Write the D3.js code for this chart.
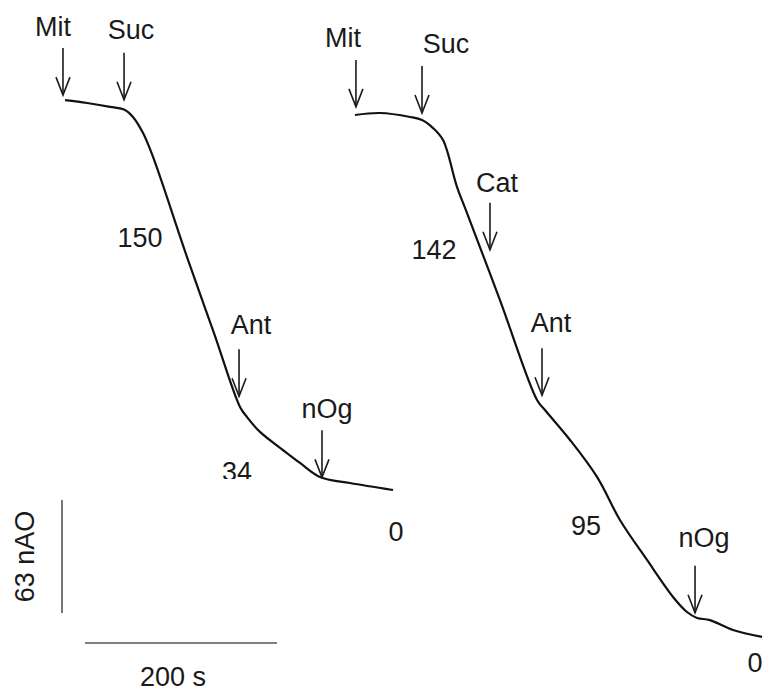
<!DOCTYPE html>
<html>
<head>
<meta charset="utf-8">
<script src="https://cdn.jsdelivr.net/npm/d3@7/dist/d3.min.js"></script>
<style>
  html, body { margin: 0; padding: 0; background: #fff; }
  svg { display: block; }
  text { font-family: "Liberation Sans", Arial, sans-serif; fill: #1a1a1a; }
</style>
</head>
<body>
<script>
// ---------- DATA ----------
// Trace 1 (left): time (s) and oxygen (nAO, arbitrary zero)
const leftTime = [0, 22.9, 46.9, 62.5, 70.8, 81.3, 91.7, 127.1, 155.2, 182.3, 189.6, 203.1, 227.1, 244.8, 265.6, 296.9, 341.7];
const leftO2   = [330.0, 328.4, 326.2, 324.5, 320.6, 311.6, 298.3, 242.5, 200.1, 158.9, 153.3, 145.0, 134.9, 127.7, 119.9, 116.5, 112.6];
// Trace 2 (right)
const rightTime = [0, 26.0, 57.3, 69.8, 81.3, 91.7, 106.3, 116.7, 151.0, 189.6, 197.9, 224.0, 252.1, 276.0, 304.2, 331.3, 345.8, 356.3, 369.8, 393.8, 424.0];
const rightO2   = [321.7, 322.8, 320.6, 318.9, 314.4, 307.7, 281.5, 267.0, 218.5, 162.8, 157.2, 140.5, 119.9, 95.9, 73.6, 53.0, 44.6, 41.3, 40.1, 34.6, 30.7];
// Additions (arrows)
const leftEvents  = ["Mit", "Suc", "Ant", "nOg"];
const leftEventT  = [-2.1, 61.5, 181.3, 267.7];
const rightEvents = ["Mit", "Suc", "Cat", "Ant", "nOg"];
const rightEventT = [1.0, 69.8, 140.6, 194.8, 354.2];
// Respiration rates
const leftRates  = ["150", "34", "0"];
const rightRates = ["142", "95", "0"];
// Scale bars
const scaleTime = 200;      // s
const scaleO2 = 63;         // nAO
const scaleTimeLabel = "200 s";
const scaleO2Label = "63 nAO";

// ---------- LAYOUT ----------
const W = 763, H = 692;
const layout = {
  leftX0: 65, rightX0: 355,
  arrowLen: 47,
  leftGap:  [5, 10, 8, 0],
  rightGap: [8, 7, 24, 11, 4],
  leftLabel:  [[-10, -12], [7, -14], [12, -15], [5, -12]],
  rightLabel: [[-13, -13], [24, -13], [7, -11], [9, -16], [9, -19]],
  leftRatePos:  [[140, 247], [237, 481], [396, 541]],
  rightRatePos: [[434, 259], [586, 535], [755, 672]],
  scaleBarX: 62, scaleBarO2From: 44.04,
  hBarX0: 85, hBarY: 643,
  fontSize: 27
};

const svg = d3.select("body").append("svg").attr("width", W).attr("height", H);

// scales: 200 s -> 192 px ; 63 nAO -> 113 px
const tLen = d3.scaleLinear().domain([0, scaleTime]).range([0, 192]);
const y = d3.scaleLinear().domain([0, scaleO2]).range([H, H - 113]);

const interp = (ts, vs, t) => {
  if (t <= ts[0]) return vs[0];
  for (let i = 1; i < ts.length; i++) {
    if (t <= ts[i]) {
      const f = (t - ts[i-1]) / (ts[i] - ts[i-1]);
      return vs[i-1] + f * (vs[i] - vs[i-1]);
    }
  }
  return vs[vs.length - 1];
};

const defs = svg.append("defs");
defs.append("clipPath").attr("id", "clip34")
  .append("rect").attr("x", 0).attr("y", 0).attr("width", W).attr("height", 479);

function drawTrace(x0, ts, vs, evNames, evT, gaps, labOff, rates, ratePos, clipIdx) {
  const xs = t => x0 + tLen(t);
  const line = d3.line().x(d => xs(d[0])).y(d => y(d[1])).curve(d3.curveCatmullRom.alpha(0.5));
  svg.append("path")
    .datum(ts.map((t, i) => [t, vs[i]]))
    .attr("d", line)
    .attr("fill", "none")
    .attr("stroke", "#111")
    .attr("stroke-width", 2.2)
    .attr("stroke-linejoin", "round");

  evNames.forEach((name, i) => {
    const ax = xs(evT[i]);
    const tip = y(interp(ts, vs, evT[i])) - gaps[i];
    const tail = tip - layout.arrowLen;
    const g = svg.append("g").attr("stroke", "#1a1a1a").attr("stroke-width", 1.6).attr("fill", "none");
    g.append("line").attr("x1", ax).attr("x2", ax).attr("y1", tail).attr("y2", tip);
    g.append("polyline").attr("points", `${ax-7},${tip-18} ${ax},${tip} ${ax+7},${tip-18}`);
    svg.append("text")
      .attr("x", ax + labOff[i][0]).attr("y", tail + labOff[i][1])
      .attr("text-anchor", "middle").attr("font-size", layout.fontSize)
      .text(name);
  });

  rates.forEach((r, i) => {
    const t = svg.append("text")
      .attr("x", ratePos[i][0]).attr("y", ratePos[i][1])
      .attr("text-anchor", "middle").attr("font-size", layout.fontSize)
      .text(r);
    if (i === clipIdx) t.attr("clip-path", "url(#clip34)");
  });
}

drawTrace(layout.leftX0, leftTime, leftO2, leftEvents, leftEventT, layout.leftGap, layout.leftLabel, leftRates, layout.leftRatePos, 1);
drawTrace(layout.rightX0, rightTime, rightO2, rightEvents, rightEventT, layout.rightGap, layout.rightLabel, rightRates, layout.rightRatePos, -1);

// Scale bars
svg.append("line")
  .attr("x1", layout.scaleBarX).attr("x2", layout.scaleBarX)
  .attr("y1", y(layout.scaleBarO2From)).attr("y2", y(layout.scaleBarO2From + scaleO2))
  .attr("stroke", "#555").attr("stroke-width", 1.6);
svg.append("text")
  .attr("transform", `translate(34, ${(y(layout.scaleBarO2From) + y(layout.scaleBarO2From + scaleO2)) / 2}) rotate(-90)`)
  .attr("text-anchor", "middle").attr("font-size", layout.fontSize)
  .text(scaleO2Label);

svg.append("line")
  .attr("x1", layout.hBarX0).attr("x2", layout.hBarX0 + tLen(scaleTime))
  .attr("y1", layout.hBarY).attr("y2", layout.hBarY)
  .attr("stroke", "#555").attr("stroke-width", 1.6);
svg.append("text")
  .attr("x", layout.hBarX0 + tLen(scaleTime) / 2 - 8).attr("y", 686)
  .attr("text-anchor", "middle").attr("font-size", layout.fontSize)
  .text(scaleTimeLabel);
</script>
</body>
</html>
